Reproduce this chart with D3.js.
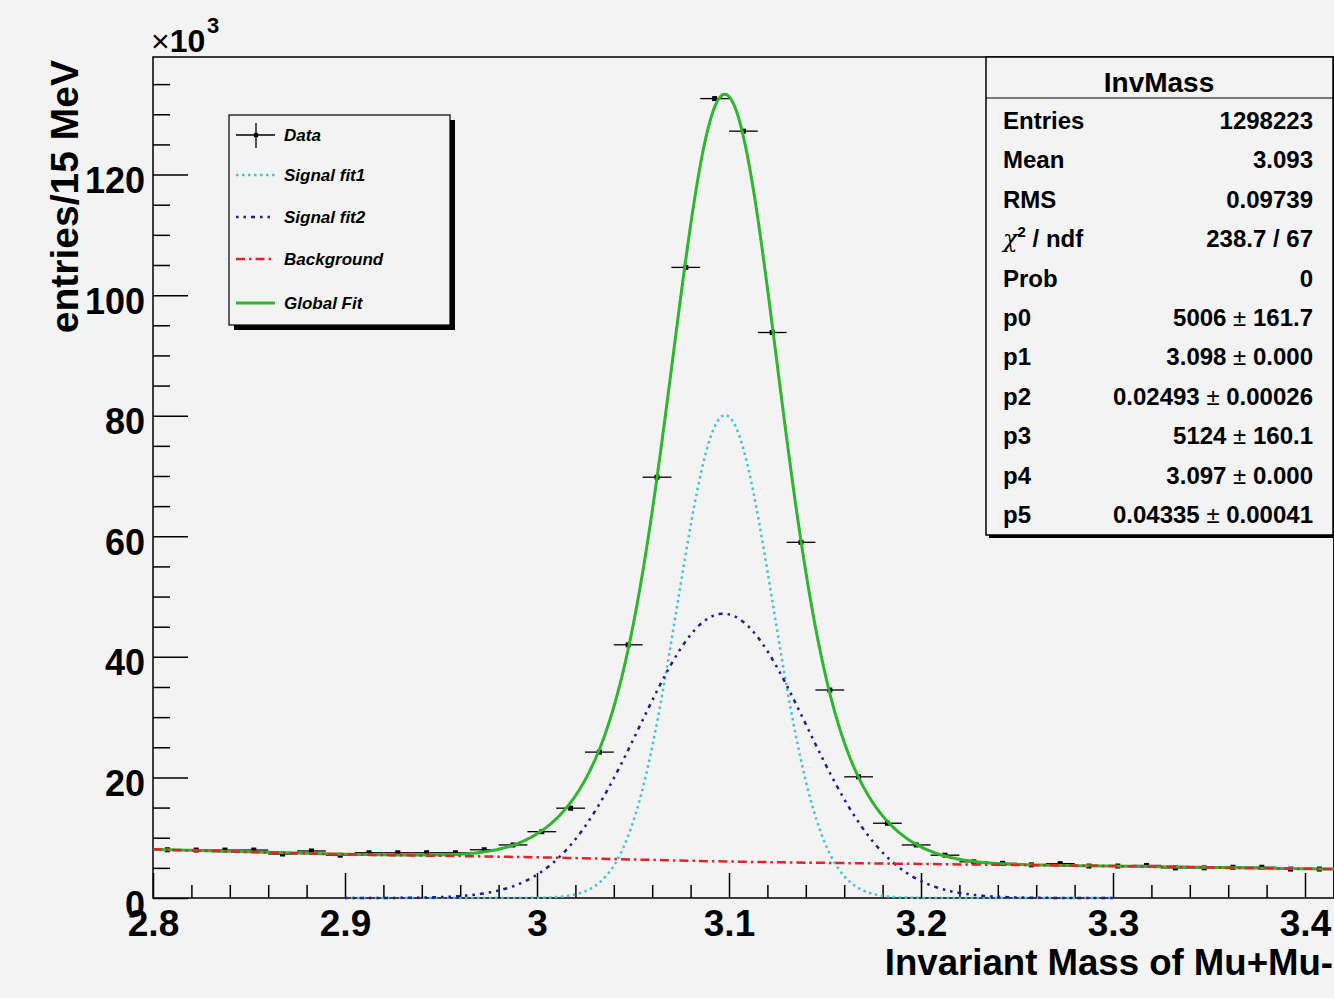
<!DOCTYPE html>
<html><head><meta charset="utf-8">
<script src="https://cdn.jsdelivr.net/npm/d3@7"></script>
<style>
html,body{margin:0;padding:0;background:#f3f3f3;}
svg{display:block;}
text{font-family:"Liberation Sans",Arial,Helvetica,sans-serif;}
</style></head><body>
<svg id="c" width="1334" height="998"></svg>
<script>
// ---------------- data ----------------
const massBins = [2.8075,2.8225,2.8375,2.8525,2.8675,2.8825,2.8975,2.9125,2.9275,2.9425,
  2.9575,2.9725,2.9875,3.0025,3.0175,3.0325,3.0475,3.0625,3.0775,3.0925,
  3.1075,3.1225,3.1375,3.1525,3.1675,3.1825,3.1975,3.2125,3.2275,3.2425,
  3.2575,3.2725,3.2875,3.3025,3.3175,3.3325,3.3475,3.3625,3.3775,3.3925,3.4075];
const entriesK = [8.0,7.95,7.95,7.95,7.3,7.8,7.1,7.5,7.5,7.5,
  7.5,8.0,8.8,11.0,14.9,24.2,42.0,69.8,104.6,132.6,
  127.2,93.8,59.0,34.5,20.1,12.4,8.8,7.1,6.0,5.75,
  5.5,5.7,5.3,5.3,5.4,5.0,5.0,5.1,5.1,4.8,4.8];
const binHalfWidth = 0.0075;
// fit parameters from the stats box: p0..p5
const fitParams = [5006, 3.098, 0.02493, 5124, 3.097, 0.04335];
// background fit (x10^3)
const bgMass = [2.8, 2.9, 3.0, 3.1, 3.2, 3.3, 3.4, 3.415];
const bgK    = [8.07, 7.25, 6.75, 6.05, 5.65, 5.3, 4.85, 4.8];
const xMajor = [2.8, 2.9, 3.0, 3.1, 3.2, 3.3, 3.4];
const xLabels = ["2.8","2.9","3","3.1","3.2","3.3","3.4"];
const yMajor = [0, 20, 40, 60, 80, 100, 120];
const yLabels = ["0","20","40","60","80","100","120"];
const legendLabels = ["Data","Signal fit1","Signal fit2","Background","Global Fit"];
const statLabels = ["Entries","Mean","RMS","CHI","Prob","p0","p1","p2","p3","p4","p5"];
const statValues = [["1298223"],["3.093"],["0.09739"],["238.7 / 67"],["0"],
  ["5006","161.7"],["3.098","0.000"],["0.02493","0.00026"],["5124","160.1"],["3.097","0.000"],["0.04335","0.00041"]];

// ---------------- setup ----------------
const W = 1334, H = 998;
const svg = d3.select("#c");
svg.append("rect").attr("width", W).attr("height", H).attr("fill", "#f3f3f3");

const x = d3.scaleLinear().domain([2.8, 3.415]).range([153, 1333.8]);
const y = d3.scaleLinear().domain([0, 139.5]).range([898, 57]);

const COL = {cyan:"#45c3cf", blue:"#1c1c9e", red:"#e3222b", green:"#2fb52f"};

// ---------------- axes ----------------
const yMinor = d3.range(5, 139, 5).filter(v => v % 20 !== 0);
const xMinor = d3.range(2.82, 3.415, 0.02).filter(v => Math.abs(v*10 - Math.round(v*10)) > 0.01);

const gyMin = svg.append("g").attr("transform","translate(153,0)")
  .call(d3.axisLeft(y).tickValues(yMinor).tickSize(-17).tickFormat(""));
const gy = svg.append("g").attr("transform","translate(153,0)")
  .call(d3.axisLeft(y).tickValues(yMajor).tickSize(-35).tickPadding(8).tickFormat((d,i)=>yLabels[i]));
const gxMin = svg.append("g").attr("transform","translate(0,898)")
  .call(d3.axisBottom(x).tickValues(xMinor).tickSize(-13).tickFormat(""));
const gx = svg.append("g").attr("transform","translate(0,898)")
  .call(d3.axisBottom(x).tickValues(xMajor).tickSize(-25).tickPadding(12).tickFormat((d,i)=>xLabels[i]));
[gyMin, gy, gxMin, gx].forEach(g => {
  g.select(".domain").remove();
  g.selectAll("line").attr("stroke","#000").attr("stroke-width",1.5);
});
gy.selectAll("text").attr("font-size",36).attr("font-weight","bold").attr("fill","#000").attr("dy","0.5em");
gx.selectAll("text").attr("font-size",37).attr("font-weight","bold").attr("fill","#000");

// frame
svg.append("rect").attr("x",153).attr("y",57).attr("width",1180.8).attr("height",841)
  .attr("fill","none").attr("stroke","#000").attr("stroke-width",1.5);

// ---------------- data points ----------------
const pts = svg.append("g");
massBins.forEach((m,i) => {
  pts.append("line").attr("x1",x(m-binHalfWidth)).attr("x2",x(m+binHalfWidth))
    .attr("y1",y(entriesK[i])).attr("y2",y(entriesK[i])).attr("stroke","#000").attr("stroke-width",1.3);
  pts.append("rect").attr("x",x(m)-2.5).attr("y",y(entriesK[i])-2.5).attr("width",5).attr("height",5).attr("fill","#000");
});

// ---------------- curves ----------------
const bgScale = d3.scaleLinear().domain(bgMass).range(bgK);
const gaus = (xx, a, mu, s) => a/(Math.sqrt(2*Math.PI)*s)*Math.exp(-0.5*Math.pow((xx-mu)/s,2))/1000;
const sig1 = xx => gaus(xx, fitParams[0], fitParams[1], fitParams[2]);
const sig2 = xx => gaus(xx, fitParams[3], fitParams[4], fitParams[5]);
const line = d3.line().x(d=>x(d[0])).y(d=>y(d[1]));
const fullGrid = d3.range(2.8, 3.4151, 0.001);
const sigGrid = d3.range(2.9, 3.3001, 0.001);

svg.append("path").datum(fullGrid.map(m=>[m, sig1(m)+sig2(m)+bgScale(m)]))
  .attr("d", line).attr("fill","none").attr("stroke",COL.green).attr("stroke-width",3);
svg.append("path").datum(sigGrid.map(m=>[m, sig1(m)]))
  .attr("d", line).attr("fill","none").attr("stroke",COL.cyan).attr("stroke-width",2.5)
  .attr("stroke-dasharray","2.5,3.5");
svg.append("path").datum(sigGrid.map(m=>[m, sig2(m)]))
  .attr("d", line).attr("fill","none").attr("stroke",COL.blue).attr("stroke-width",2.5)
  .attr("stroke-dasharray","2.5,5,2.5,5,4,5");
svg.append("path").datum(bgMass.map((m,i)=>[m,bgK[i]]))
  .attr("d", d3.line().x(d=>x(d[0])).y(d=>y(d[1])).curve(d3.curveMonotoneX))
  .attr("fill","none").attr("stroke",COL.red).attr("stroke-width",2.5)
  .attr("stroke-dasharray","9,4,2.5,4");

// ---------------- titles ----------------
const t10 = svg.append("text").attr("x",151).attr("y",52).attr("font-size",32).attr("fill","#000");
t10.append("tspan").text("×").attr("font-weight","normal");
t10.append("tspan").text("10").attr("font-weight","bold");
svg.append("text").attr("x",207).attr("y",33).attr("font-size",22).attr("font-weight","bold").text("3");

svg.append("text").attr("transform","translate(78,60) rotate(-90)").attr("text-anchor","end")
  .attr("font-size",39).attr("font-weight","bold").attr("fill","#000").text("entries/15 MeV");
svg.append("text").attr("x",1333).attr("y",975).attr("text-anchor","end")
  .attr("font-size",36.6).attr("font-weight","bold").attr("fill","#000").text("Invariant Mass of Mu+Mu-");

// ---------------- legend ----------------
const lg = svg.append("g");
lg.append("rect").attr("x",234).attr("y",120).attr("width",221).attr("height",210).attr("fill","#000");
lg.append("rect").attr("x",229).attr("y",115).attr("width",221).attr("height",210)
  .attr("fill","#f3f3f3").attr("stroke","#000").attr("stroke-width",1.2);
const ly = [135, 175, 217, 259, 303];
const lstyle = [null,
  {c:COL.cyan, d:"2.5,3.5", w:2.5},
  {c:COL.blue, d:"2.5,5,2.5,5,4,5", w:2.5},
  {c:COL.red, d:"9,4,2.5,4", w:2.5},
  {c:COL.green, d:null, w:3}];
legendLabels.forEach((lab,i) => {
  if (i === 0) {
    lg.append("line").attr("x1",236).attr("x2",275).attr("y1",ly[i]).attr("y2",ly[i]).attr("stroke","#000").attr("stroke-width",1.3);
    lg.append("line").attr("x1",256).attr("x2",256).attr("y1",ly[i]-12).attr("y2",ly[i]+13).attr("stroke","#000").attr("stroke-width",1.3);
    lg.append("circle").attr("cx",256).attr("cy",ly[i]).attr("r",2.5).attr("fill","#000");
  } else {
    const s = lstyle[i];
    const l = lg.append("line").attr("x1",236).attr("x2",275).attr("y1",ly[i]).attr("y2",ly[i])
      .attr("stroke",s.c).attr("stroke-width",s.w);
    if (s.d) l.attr("stroke-dasharray",s.d);
  }
  lg.append("text").attr("x",284).attr("y",ly[i]+6).attr("font-size",17).attr("font-weight","bold")
    .attr("font-style","italic").attr("fill","#000").text(lab);
});

// ---------------- stats box ----------------
const sb = svg.append("g");
sb.append("rect").attr("x",989).attr("y",60).attr("width",347).attr("height",478).attr("fill","#000");
sb.append("rect").attr("x",986).attr("y",57).attr("width",347).attr("height",478)
  .attr("fill","#f3f3f3").attr("stroke","#000").attr("stroke-width",1.5);
sb.append("line").attr("x1",986).attr("x2",1333).attr("y1",98).attr("y2",98).attr("stroke","#000").attr("stroke-width",1.2);
sb.append("text").attr("x",1159).attr("y",92).attr("text-anchor","middle").attr("font-size",28)
  .attr("font-weight","bold").attr("fill","#000").text("InvMass");
statLabels.forEach((lab,i) => {
  const by = 129 + i*39.4;
  const t = sb.append("text").attr("x",1003).attr("y",by).attr("font-size",24).attr("font-weight","bold").attr("fill","#000");
  if (lab === "CHI") {
    t.append("tspan").text("χ").attr("font-family","'DejaVu Serif','Liberation Serif',serif").attr("font-weight","normal").attr("font-style","italic");
    t.append("tspan").text("2").attr("font-size",15).attr("dy",-10);
    t.append("tspan").text(" / ndf").attr("dy",10);
  } else {
    t.text(lab);
  }
  const v = sb.append("text").attr("x",1313).attr("y",by).attr("text-anchor","end")
    .attr("font-size",24).attr("font-weight","bold").attr("fill","#000");
  const vals = statValues[i];
  if (vals.length === 1) v.text(vals[0]);
  else {
    v.append("tspan").text(vals[0]);
    v.append("tspan").text(" ± ").attr("font-weight","normal");
    v.append("tspan").text(vals[1]);
  }
});
</script></body></html>
